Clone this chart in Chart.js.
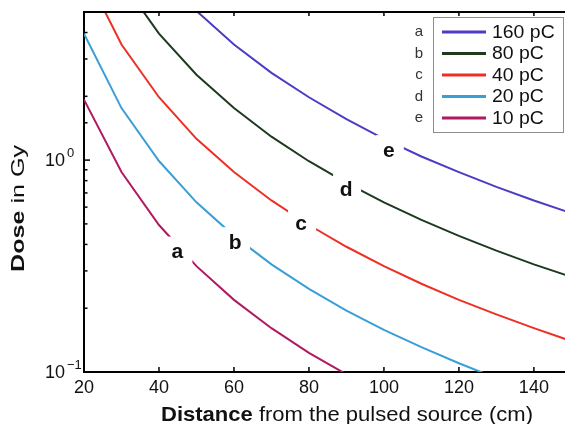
<!DOCTYPE html>
<html lang="en">
<head>
<meta charset="UTF-8">
<title>Dose vs distance</title>
<script src="https://cdn.jsdelivr.net/npm/chart.js"></script>
<style>
  * { margin: 0; padding: 0; }
  body { background: #fff; width: 565px; height: 424px; overflow: hidden; }
  #chart { display: block; }
</style>
</head>
<body>
<canvas id="chart" width="565" height="424"></canvas>
<script>
// distance from the source (cm) and dose (Gy)
const distances = [20, 30, 40, 50, 60, 70, 80, 90, 100, 110, 120, 130, 140, 150];
const dose160 = [null, null, 7.9, 5.06, 3.51, 2.58, 1.98, 1.56, 1.26, 1.04, 0.878, 0.748, 0.645, 0.562];
const dose80  = [null, 7.02, 3.95, 2.53, 1.76, 1.29, 0.988, 0.78, 0.632, 0.522, 0.439, 0.374, 0.322, 0.281];
const dose40  = [7.9, 3.51, 1.98, 1.26, 0.878, 0.645, 0.494, 0.39, 0.316, 0.261, 0.219, 0.187, 0.161, 0.14];
const dose20  = [3.95, 1.76, 0.99, 0.632, 0.439, 0.322, 0.247, 0.195, 0.158, 0.131, 0.11, 0.0935, null, null];
const dose10  = [1.93, 0.878, 0.494, 0.316, 0.219, 0.161, 0.123, 0.0975, null, null, null, null, null, null];

const seriesNames = ['160 pC', '80 pC', '40 pC', '20 pC', '10 pC'];
const seriesColors = ['#4b3cc4', '#1d3a1f', '#ee2f24', '#3a9fd6', '#b01a60'];
const legendLetters = ['a', 'b', 'c', 'd', 'e'];

// curve labels placed on the curves (cm, Gy)
const curveLabels = ['a', 'b', 'c', 'd', 'e'];
const curveLabelX = [44.9, 60.3, 77.9, 89.9, 101.3];
const curveLabelY = [0.37, 0.41, 0.505, 0.73, 1.115];

const FONT = "'Liberation Sans', Arial, sans-serif";

function toPoints(values) {
  return distances.map((d, i) => ({ x: d, y: values[i] }));
}

function textWidth(ctx, parts) {
  let w = 0;
  parts.forEach(p => { ctx.font = p.font; w += ctx.measureText(p.text).width; });
  return w;
}

// draw a run of text pieces (bold / regular), optionally stretched and rotated
function drawParts(ctx, parts, x, y, sx, angle) {
  ctx.save();
  ctx.translate(x, y);
  if (angle) ctx.rotate(angle);
  ctx.scale(sx, 1);
  ctx.textAlign = 'left';
  ctx.textBaseline = 'alphabetic';
  let cx = 0;
  parts.forEach(p => {
    ctx.font = p.font;
    ctx.fillText(p.text, cx, 0);
    cx += ctx.measureText(p.text).width;
  });
  ctx.restore();
}

function isDecade(v) {
  const l = Math.log10(v);
  return Math.abs(l - Math.round(l)) < 1e-6;
}

const decorations = {
  id: 'decorations',
  afterDatasetsDraw(chart) {
    const { ctx, chartArea: area } = chart;
    const xs = chart.scales.x, ys = chart.scales.y;
    ctx.save();
    ctx.fillStyle = '#111';
    ctx.strokeStyle = '#000';

    // top frame
    ctx.lineWidth = 2;
    ctx.beginPath();
    ctx.moveTo(area.left - 1, area.top);
    ctx.lineTo(area.right, area.top);
    ctx.stroke();

    // x ticks (inward, bottom and top)
    ctx.lineWidth = 1.5;
    xs.ticks.forEach(t => {
      const px = xs.getPixelForValue(t.value);
      ctx.beginPath();
      ctx.moveTo(px, area.bottom);
      ctx.lineTo(px, area.bottom - 5);
      ctx.moveTo(px, area.top);
      ctx.lineTo(px, area.top + 4);
      ctx.stroke();
    });

    // y ticks and 10^n labels
    ys.ticks.forEach(t => {
      const py = ys.getPixelForValue(t.value);
      const major = isDecade(t.value);
      ctx.beginPath();
      ctx.moveTo(area.left, py);
      ctx.lineTo(area.left + (major ? 6 : 3.5), py);
      ctx.stroke();
      if (major) {
        const exp = Math.round(Math.log10(t.value));
        ctx.textBaseline = 'alphabetic';
        ctx.textAlign = 'right';
        ctx.font = '18px ' + FONT;
        ctx.fillText('10', area.left - 19, py + 6);
        ctx.textAlign = 'left';
        ctx.font = '13px ' + FONT;
        ctx.fillText(exp < 0 ? '\u2212' + (-exp) : String(exp), area.left - 17, py - 3);
      }
    });

    // curve labels with a white gap in the line
    curveLabels.forEach((lab, i) => {
      const px = xs.getPixelForValue(curveLabelX[i]);
      const py = ys.getPixelForValue(curveLabelY[i]);
      ctx.fillStyle = '#fff';
      ctx.fillRect(px - 13, py - 15, 28, 30);
      ctx.fillStyle = '#111';
      ctx.font = 'bold 21px ' + FONT;
      ctx.textAlign = 'center';
      ctx.textBaseline = 'middle';
      ctx.fillText(lab, px, py + 1);
    });

    // legend box
    const lx = 433, ly = 17, lw = 130, lh = 115;
    ctx.fillStyle = '#fff';
    ctx.fillRect(lx, ly, lw, lh);
    ctx.strokeStyle = '#8c8c8c';
    ctx.lineWidth = 1;
    ctx.strokeRect(lx + 0.5, ly + 0.5, lw, lh);
    chart.data.datasets.forEach((ds, i) => {
      const ry = 32 + i * 21.5;
      ctx.strokeStyle = ds.borderColor;
      ctx.lineWidth = 3;
      ctx.beginPath();
      ctx.moveTo(442, ry);
      ctx.lineTo(486, ry);
      ctx.stroke();
      ctx.fillStyle = '#111';
      ctx.textBaseline = 'middle';
      ctx.textAlign = 'left';
      ctx.font = '18px ' + FONT;
      ctx.save();
      ctx.translate(492, ry + 1);
      ctx.scale(1.08, 1);
      ctx.fillText(ds.label, 0, 0);
      ctx.restore();
      ctx.fillStyle = '#333';
      ctx.textAlign = 'center';
      ctx.font = '15px ' + FONT;
      ctx.fillText(legendLetters[i], 419, ry);
    });

    // axis titles, bold word + regular rest
    ctx.fillStyle = '#111';
    const xParts = [
      { text: 'Distance', font: 'bold 21px ' + FONT },
      { text: ' from the pulsed source (cm)', font: '21px ' + FONT }
    ];
    drawParts(ctx, xParts, 161, 420.5, 372 / textWidth(ctx, xParts), 0);
    const yParts = [
      { text: 'Dose', font: 'bold 19px ' + FONT },
      { text: ' in Gy', font: '19px ' + FONT }
    ];
    drawParts(ctx, yParts, 24, 272, 127 / textWidth(ctx, yParts), -Math.PI / 2);

    ctx.restore();
  }
};

new Chart(document.getElementById('chart'), {
  type: 'line',
  data: {
    datasets: [dose160, dose80, dose40, dose20, dose10].map((vals, i) => ({
      label: seriesNames[i],
      data: toPoints(vals),
      borderColor: seriesColors[i],
      backgroundColor: seriesColors[i],
      borderWidth: 2,
      pointRadius: 0,
      tension: 0,
      fill: false
    }))
  },
  options: {
    responsive: false,
    animation: false,
    devicePixelRatio: 1,
    layout: { padding: { top: 12, right: 0, bottom: 0, left: 0 } },
    plugins: { legend: { display: false }, tooltip: { enabled: false } },
    scales: {
      x: {
        type: 'linear', min: 20, max: 148.3,
        afterFit: s => { s.height = 52; },
        ticks: { stepSize: 20, includeBounds: false, maxRotation: 0, padding: 5,
                 color: '#111', font: { family: FONT, size: 18 } },
        grid: { display: false, drawTicks: false },
        border: { display: true, color: '#000', width: 2 }
      },
      y: {
        type: 'logarithmic', min: 0.1, max: 5,
        afterFit: s => { s.width = 84; },
        ticks: { display: false },
        grid: { display: false, drawTicks: false },
        border: { display: true, color: '#000', width: 2 }
      }
    }
  },
  plugins: [decorations]
});
</script>
</body>
</html>
